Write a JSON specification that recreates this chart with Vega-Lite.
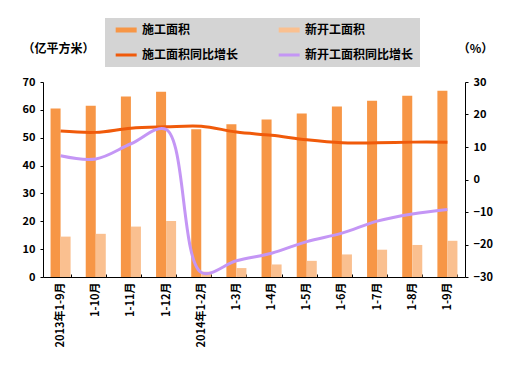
{
  "$schema": "https://vega.github.io/schema/vega-lite/v6.json",
  "autosize": {"type": "none"},
  "padding": {"left": 43, "top": 82, "right": 46, "bottom": 104},
  "width": 422,
  "height": 195,
  "background": "white",
  "config": {
    "view": {"stroke": null},
    "font": "Noto Sans CJK SC",
    "axis": {"labelFont": "Noto Sans CJK SC", "labelFontWeight": "bold", "labelFontSize": 11, "labelColor": "black", "titleFont": "Noto Sans CJK SC", "titleFontWeight": "bold", "titleFontSize": 12, "titleColor": "black", "domainColor": "black", "tickColor": "black", "grid": false}
  },
  "data": {
    "values": [
      {"month": "2013年1-9月", "series": "施工面积", "value": 60.5},
      {"month": "1-10月", "series": "施工面积", "value": 61.5},
      {"month": "1-11月", "series": "施工面积", "value": 64.8},
      {"month": "1-12月", "series": "施工面积", "value": 66.5},
      {"month": "2014年1-2月", "series": "施工面积", "value": 53.0},
      {"month": "1-3月", "series": "施工面积", "value": 54.8},
      {"month": "1-4月", "series": "施工面积", "value": 56.5},
      {"month": "1-5月", "series": "施工面积", "value": 58.7},
      {"month": "1-6月", "series": "施工面积", "value": 61.2},
      {"month": "1-7月", "series": "施工面积", "value": 63.3},
      {"month": "1-8月", "series": "施工面积", "value": 65.1},
      {"month": "1-9月", "series": "施工面积", "value": 66.9},
      {"month": "2013年1-9月", "series": "新开工面积", "value": 14.5},
      {"month": "1-10月", "series": "新开工面积", "value": 15.5},
      {"month": "1-11月", "series": "新开工面积", "value": 18.1},
      {"month": "1-12月", "series": "新开工面积", "value": 20.1},
      {"month": "2014年1-2月", "series": "新开工面积", "value": 1.9},
      {"month": "1-3月", "series": "新开工面积", "value": 3.2},
      {"month": "1-4月", "series": "新开工面积", "value": 4.5},
      {"month": "1-5月", "series": "新开工面积", "value": 5.8},
      {"month": "1-6月", "series": "新开工面积", "value": 8.1},
      {"month": "1-7月", "series": "新开工面积", "value": 9.8},
      {"month": "1-8月", "series": "新开工面积", "value": 11.5},
      {"month": "1-9月", "series": "新开工面积", "value": 13.0},
      {"month": "2013年1-9月", "series": "施工面积同比增长", "value": 14.9},
      {"month": "1-10月", "series": "施工面积同比增长", "value": 14.5},
      {"month": "1-11月", "series": "施工面积同比增长", "value": 15.8},
      {"month": "1-12月", "series": "施工面积同比增长", "value": 16.2},
      {"month": "2014年1-2月", "series": "施工面积同比增长", "value": 16.4},
      {"month": "1-3月", "series": "施工面积同比增长", "value": 14.6},
      {"month": "1-4月", "series": "施工面积同比增长", "value": 13.6},
      {"month": "1-5月", "series": "施工面积同比增长", "value": 12.2},
      {"month": "1-6月", "series": "施工面积同比增长", "value": 11.3},
      {"month": "1-7月", "series": "施工面积同比增长", "value": 11.3},
      {"month": "1-8月", "series": "施工面积同比增长", "value": 11.5},
      {"month": "1-9月", "series": "施工面积同比增长", "value": 11.5},
      {"month": "2013年1-9月", "series": "新开工面积同比增长", "value": 7.3},
      {"month": "1-10月", "series": "新开工面积同比增长", "value": 6.3},
      {"month": "1-11月", "series": "新开工面积同比增长", "value": 11.0},
      {"month": "1-12月", "series": "新开工面积同比增长", "value": 15.4},
      {"month": "2014年1-2月", "series": "新开工面积同比增长", "value": -28.6},
      {"month": "1-3月", "series": "新开工面积同比增长", "value": -25.0},
      {"month": "1-4月", "series": "新开工面积同比增长", "value": -22.7},
      {"month": "1-5月", "series": "新开工面积同比增长", "value": -19.1},
      {"month": "1-6月", "series": "新开工面积同比增长", "value": -16.5},
      {"month": "1-7月", "series": "新开工面积同比增长", "value": -12.8},
      {"month": "1-8月", "series": "新开工面积同比增长", "value": -10.6},
      {"month": "1-9月", "series": "新开工面积同比增长", "value": -9.2}
    ]
  },
  "encoding": {
    "x": {
      "field": "month", "type": "nominal", "sort": null,
      "scale": {"paddingInner": 0.43, "paddingOuter": 0.215},
      "axis": {"title": null, "labelAngle": 270, "tickBand": "extent", "tickSize": -3, "labelPadding": 8, "domainColor": "black"}
    },
    "color": {
      "field": "series", "type": "nominal",
      "scale": {
        "domain": ["施工面积", "新开工面积", "施工面积同比增长", "新开工面积同比增长"],
        "range": ["#F79646", "#FAC090", "#F05A0A", "#C496F5"]
      },
      "legend": {
        "title": null, "orient": "none", "legendX": 62, "legendY": -64,
        "columns": 2, "direction": "horizontal",
        "symbolType": "M-0.25,0H3.75", "symbolSize": 110, "symbolStrokeWidth": 4,
        "labelFont": "Noto Sans CJK SC", "labelFontWeight": "bold", "labelFontSize": 12, "labelColor": "black",
        "labelOffset": 19, "columnPadding": 29, "rowPadding": 9,
        "fillColor": "#D4D4D4", "padding": 6, "labelLimit": 200,
        "encode": {"symbols": {"update": {"strokeWidth": {"signal": "indexof(['施工面积','新开工面积'], datum.value) >= 0 ? 5 : 3"}}}}
      }
    }
  },
  "layer": [
    {
      "transform": [{"filter": "datum.series === '施工面积' || datum.series === '新开工面积'"}],
      "mark": {"type": "bar"},
      "encoding": {
        "xOffset": {"field": "series", "type": "nominal", "sort": ["施工面积", "新开工面积"], "scale": {"paddingInner": 0, "paddingOuter": 0}},
        "y": {
          "field": "value", "type": "quantitative",
          "scale": {"domain": [0, 70], "nice": false},
          "axis": {"title": "（亿平方米）", "titleAngle": 0, "titleAlign": "center", "titleBaseline": "middle", "titleX": 15, "titleY": -34, "values": [0, 10, 20, 30, 40, 50, 60, 70], "tickSize": 3, "labelPadding": 5}
        }
      }
    },
    {
      "transform": [{"filter": "datum.series === '施工面积同比增长' || datum.series === '新开工面积同比增长'"}],
      "mark": {"type": "line", "strokeWidth": 3, "interpolate": "catmull-rom"},
      "encoding": {
        "y": {
          "field": "value", "type": "quantitative",
          "scale": {"domain": [-30, 30], "nice": false},
          "axis": {"orient": "right", "title": "（%）", "titleAngle": 0, "titleAlign": "center", "titleBaseline": "middle", "titleX": 10, "titleY": -34, "values": [-30, -20, -10, 0, 10, 20, 30], "tickSize": 3, "labelPadding": 5}
        }
      }
    }
  ],
  "resolve": {"scale": {"y": "independent"}}
}
